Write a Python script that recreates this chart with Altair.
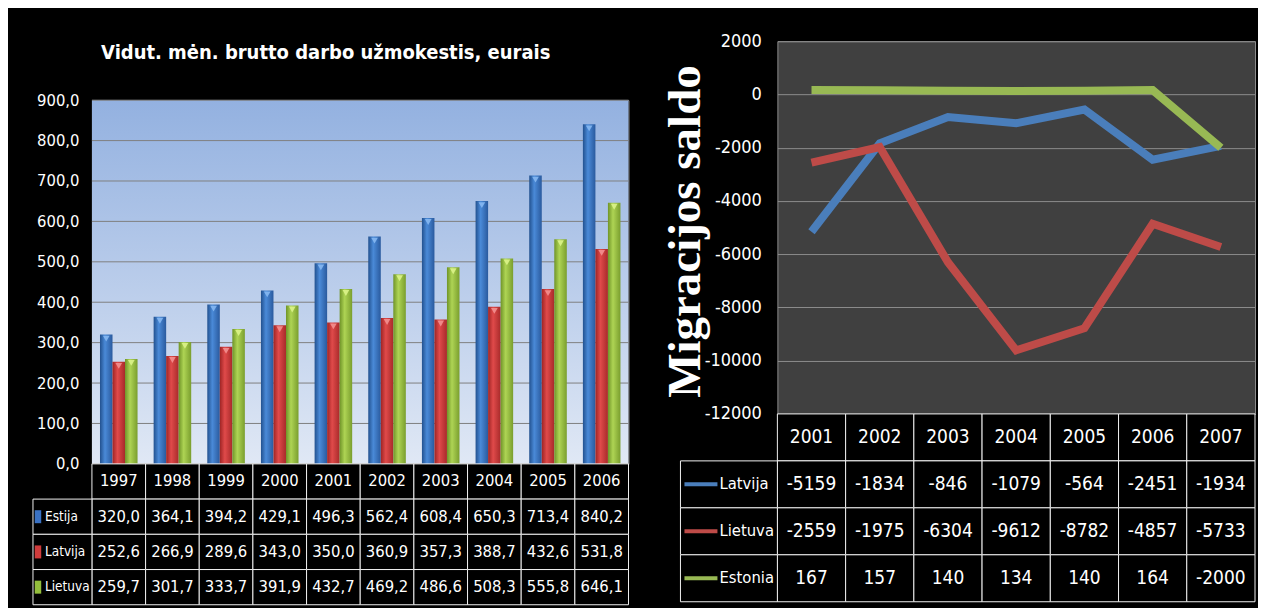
import altair as alt
import pandas as pd

# ---------------- data: left panel (wages) ----------------
TITLE_LEFT = "Vidut. mėn. brutto darbo užmokestis, eurais"
years_w = ["1997", "1998", "1999", "2000", "2001", "2002", "2003", "2004", "2005", "2006"]
series_w = ["Estija", "Latvija", "Lietuva"]
estija_w = [320.0, 364.1, 394.2, 429.1, 496.3, 562.4, 608.4, 650.3, 713.4, 840.2]
latvija_w = [252.6, 266.9, 289.6, 343.0, 350.0, 360.9, 357.3, 388.7, 432.6, 531.8]
lietuva_w = [259.7, 301.7, 333.7, 391.9, 432.7, 469.2, 486.6, 508.3, 555.8, 646.1]
wage_ticks = [0, 100, 200, 300, 400, 500, 600, 700, 800, 900]

# ---------------- data: right panel (migration) ----------------
Y_TITLE_RIGHT = "Migracijos saldo"
years_m = ["2001", "2002", "2003", "2004", "2005", "2006", "2007"]
series_m = ["Latvija", "Lietuva", "Estonia"]
latvija_m = [-5159, -1834, -846, -1079, -564, -2451, -1934]
lietuva_m = [-2559, -1975, -6304, -9612, -8782, -4857, -5733]
estonia_m = [167, 157, 140, 134, 140, 164, -2000]
mig_ticks = [-12000, -10000, -8000, -6000, -4000, -2000, 0, 2000]

NARROW = "DejaVu Sans Condensed, Liberation Sans Narrow, Liberation Sans, sans-serif"
SERIF = "Liberation Serif, DejaVu Serif, serif"

# ---------------- left panel ----------------
W_L, H_L, H_TL, H_SP = 537, 364, 141, 59

wage_vals = {"Estija": estija_w, "Latvija": latvija_w, "Lietuva": lietuva_w}
wage_df = pd.DataFrame(
    [{"year": y, "series": s, "value": v} for s in series_w for y, v in zip(years_w, wage_vals[s])]
)


def hgrad(c_dark, c_light, c_dark2):
    return alt.Gradient(
        gradient="linear",
        stops=[
            alt.GradientStop(color=c_dark, offset=0),
            alt.GradientStop(color=c_light, offset=0.4),
            alt.GradientStop(color=c_dark2, offset=1),
        ],
        x1=0, x2=1, y1=0, y2=0,
    )


bar_fill = {
    "Estija": hgrad("#22518f", "#4a8ad8", "#2a5a9e"),
    "Latvija": hgrad("#9e2424", "#e04a4a", "#a82a2a"),
    "Lietuva": hgrad("#6f9428", "#aed454", "#7a9e2e"),
}
cap_color = {"Estija": "#86b8f2", "Latvija": "#f39090", "Lietuva": "#dcf38a"}
key_colors_w = ["#3a72c4", "#cf3c3c", "#94bf3c"]

y_axis_w = alt.Axis(
    values=wage_ticks, grid=False, domain=False, ticks=False,
    labelColor="white", labelFont=NARROW, labelFontSize=16.5, labelPadding=13,
    labelExpr="replace(format(datum.value, '.1f'), '.', ',')", title=None,
)
y_scale_w = alt.Scale(domain=[0, 900], nice=False, zero=True)
x_enc_w = alt.X("year:O", scale=alt.Scale(domain=years_w, paddingInner=0.3, paddingOuter=0.15), axis=None)
xo_enc_w = alt.XOffset("series:N", scale=alt.Scale(domain=series_w, paddingInner=0, paddingOuter=0))

bg = alt.Chart(pd.DataFrame({"k": [0]})).mark_rect(
    color=alt.Gradient(
        gradient="linear",
        stops=[alt.GradientStop(color="#93b1e0", offset=0), alt.GradientStop(color="#e0e8f5", offset=1)],
        x1=0, x2=0, y1=0, y2=1,
    )
).encode(x=alt.value(0), x2=alt.value("width"), y=alt.value(0), y2=alt.value("height"))

grid_w = alt.Chart(pd.DataFrame({"tick": wage_ticks})).mark_rule(color="#7f7f7f", strokeWidth=1).encode(
    y=alt.Y("tick:Q", scale=y_scale_w, axis=y_axis_w)
)

bar_layers = []
for s in series_w:
    base = alt.Chart(wage_df).transform_filter(alt.datum.series == s)
    bar_layers.append(
        base.mark_bar(color=bar_fill[s]).encode(
            x=x_enc_w, xOffset=xo_enc_w, y=alt.Y("value:Q", scale=y_scale_w, axis=y_axis_w)
        )
    )
    bar_layers.append(
        base.mark_point(shape="triangle-down", size=45, filled=True, opacity=0.9,
                        color=cap_color[s], yOffset=4).encode(
            x=x_enc_w, xOffset=xo_enc_w, y=alt.Y("value:Q", scale=y_scale_w, axis=y_axis_w)
        )
    )

bars = alt.layer(bg, grid_w, *bar_layers).properties(
    width=W_L, height=H_L, view=alt.ViewBackground(stroke="#7f7f7f")
)

spacer = alt.Chart(pd.DataFrame({"t": [TITLE_LEFT]})).mark_text(
    font=NARROW, fontSize=20, fontWeight="bold", color="white"
).encode(text="t:N", x=alt.value(234), y=alt.value(12)).properties(
    width=W_L, height=H_SP, view=alt.ViewBackground(stroke=None)
)


def fmt_w(v):
    return f"{v:.1f}".replace(".", ",")


rows_w = ["hdr"] + series_w
cells_w = pd.DataFrame(
    [{"row": "hdr", "year": y, "text": y} for y in years_w]
    + [{"row": s, "year": y, "text": fmt_w(v)} for s in series_w for y, v in zip(years_w, wage_vals[s])]
)
labels_w = pd.DataFrame({"row": series_w})
tx_w = alt.X("year:O", scale=alt.Scale(domain=years_w, paddingInner=0, paddingOuter=0), axis=None)
ty_w = alt.Y("row:N", scale=alt.Scale(domain=rows_w, paddingInner=0, paddingOuter=0), axis=None)

table_w = alt.layer(
    alt.Chart(cells_w).mark_rect(fill="black", stroke="#f0f0f0", strokeWidth=1).encode(x=tx_w, y=ty_w),
    alt.Chart(cells_w).mark_text(color="white", font=NARROW, fontSize=16.5).encode(x=tx_w, y=ty_w, text="text:N"),
    alt.Chart(labels_w).mark_rect(fill="black", stroke="#f0f0f0", strokeWidth=1).encode(
        x=alt.value(-59), x2=alt.value(0), y=ty_w
    ),
    alt.Chart(labels_w).mark_point(
        shape="M-0.5,-1L0.5,-1L0.5,1L-0.5,1Z", size=169, filled=True, opacity=1
    ).encode(
        x=alt.value(-54), y=ty_w,
        color=alt.Color("row:N", scale=alt.Scale(domain=series_w, range=key_colors_w), legend=None),
    ),
    alt.Chart(labels_w).mark_text(color="white", font=NARROW, fontSize=13.5, align="left").encode(
        x=alt.value(-47), y=ty_w, text="row:N"
    ),
).properties(width=W_L, height=H_TL, view=alt.ViewBackground(stroke=None))

left = alt.vconcat(spacer, bars, table_w, spacing=0, bounds="flush").resolve_scale(
    x="independent", y="independent", color="independent"
)

# ---------------- right panel ----------------
W_R, H_R, H_TR = 478, 373, 188
mig_vals = {"Latvija": latvija_m, "Lietuva": lietuva_m, "Estonia": estonia_m}
mig_df = pd.DataFrame(
    [{"year": y, "series": s, "value": v} for s in series_m for y, v in zip(years_m, mig_vals[s])]
)
line_colors = ["#4a7ebb", "#be4b48", "#98b954"]

lines = alt.Chart(mig_df).mark_line(strokeWidth=8).encode(
    x=alt.X("year:O", scale=alt.Scale(type="point", domain=years_m, padding=0.5), axis=None),
    y=alt.Y(
        "value:Q",
        scale=alt.Scale(domain=[-12000, 2000], nice=False, zero=False),
        axis=alt.Axis(
            values=mig_ticks, grid=True, gridColor="#8c8c8c", gridWidth=1, domain=False, ticks=False,
            labelColor="white", labelFont=NARROW, labelFontSize=18, labelPadding=16,
            labelExpr="'' + datum.value",
            title=Y_TITLE_RIGHT, titleFont=SERIF, titleFontSize=47, titleFontWeight="bold",
            titleColor="white", titleAngle=270, titleX=-92, titleY=190,
            titleAlign="center", titleBaseline="middle",
        ),
    ),
    color=alt.Color("series:N", scale=alt.Scale(domain=series_m, range=line_colors), legend=None),
).properties(width=W_R, height=H_R, view=alt.ViewBackground(fill="#404040", stroke="#8c8c8c"))

rows_m = ["hdr"] + series_m
cells_m = pd.DataFrame(
    [{"row": "hdr", "year": y, "text": y} for y in years_m]
    + [{"row": s, "year": y, "text": str(v)} for s in series_m for y, v in zip(years_m, mig_vals[s])]
)
labels_m = pd.DataFrame({"row": series_m})
tx_m = alt.X("year:O", scale=alt.Scale(domain=years_m, paddingInner=0, paddingOuter=0), axis=None)
ty_m = alt.Y("row:N", scale=alt.Scale(domain=rows_m, paddingInner=0, paddingOuter=0), axis=None)

table_m = alt.layer(
    alt.Chart(cells_m).mark_rect(fill="black", stroke="#f0f0f0", strokeWidth=1).encode(x=tx_m, y=ty_m),
    alt.Chart(cells_m).mark_text(color="white", font=NARROW, fontSize=19).encode(x=tx_m, y=ty_m, text="text:N"),
    alt.Chart(labels_m).mark_rect(fill="black", stroke="#f0f0f0", strokeWidth=1).encode(
        x=alt.value(-97), x2=alt.value(0), y=ty_m
    ),
    alt.Chart(labels_m).mark_rule(strokeWidth=4).encode(
        x=alt.value(-93), x2=alt.value(-60), y=ty_m,
        color=alt.Color("row:N", scale=alt.Scale(domain=series_m, range=line_colors), legend=None),
    ),
    alt.Chart(labels_m).mark_text(color="white", font=NARROW, fontSize=16.5, align="left").encode(
        x=alt.value(-58), y=ty_m, text="row:N"
    ),
).properties(width=W_R, height=H_TR, view=alt.ViewBackground(stroke=None))

right = alt.vconcat(lines, table_m, spacing=0, bounds="flush").resolve_scale(
    x="independent", y="independent", color="independent"
)

chart = (
    alt.hconcat(left, right, spacing=31)
    .resolve_scale(x="independent", y="independent", color="independent")
    .properties(background="black", padding={"left": 24, "top": 23, "right": 2, "bottom": 2})
    .configure_view(stroke=None)
)

chart.save("out.html", embed_options={"renderer": "svg", "actions": False})
